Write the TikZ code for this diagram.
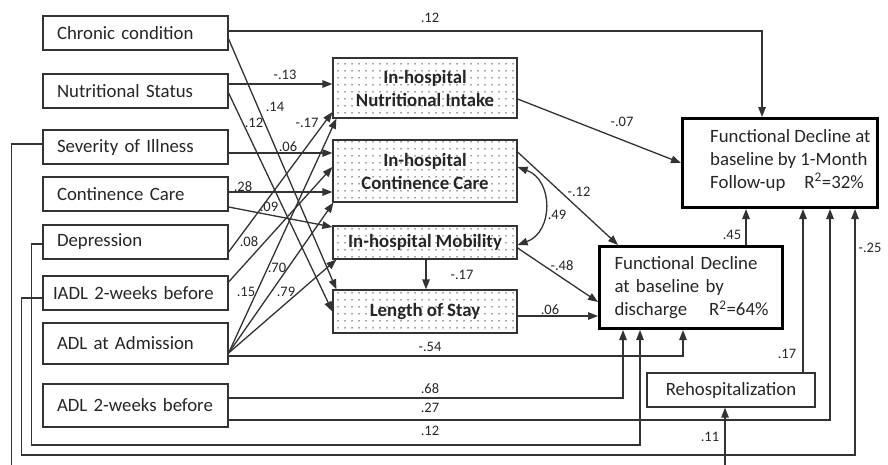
\documentclass[tikz,border=0pt]{standalone}
\usepackage{fontspec}
\setmainfont{Carlito}
\usetikzlibrary{arrows.meta,patterns.meta}
\newcommand{\boxfont}{\fontsize{18.8}{23}\selectfont}
\newcommand{\labfont}{\fontsize{14.5}{17}\selectfont}
\tikzset{
  lbox/.style={draw=black!80, line width=1.2pt, minimum width=185pt, text width=157pt,
    inner xsep=14pt, inner ysep=0pt, align=left, font=\boxfont, text=black!85},
  mbox/.style={draw=black!80, line width=1.2pt, minimum width=184pt, inner sep=0pt,
    align=center, font=\boxfont\bfseries, text=black!85,
    pattern={Dots[distance=6.5pt,radius=0.8pt]}, pattern color=black!75},
  rbox/.style={draw=black, line width=3pt, inner sep=0pt},
  conn/.style={draw=black!80, line width=1.3pt, -{Triangle[length=10pt,width=7.5pt]}},
  dconn/.style={draw=black!80, line width=1.3pt,
    {Triangle[length=10pt,width=7.5pt]}-{Triangle[length=10pt,width=7.5pt]}},
  lab/.style={font=\labfont, text=black!85, inner sep=0pt},
}
\begin{document}
\begin{tikzpicture}[x=1pt,y=-1pt]
\useasboundingbox (0,0) rectangle (888,464);
\clip (0,0) rectangle (888,464);
\fill[white] (0,0) rectangle (888,464);

% left column
\node[lbox, minimum height=34pt] (chronic) at (135.5,33) {Chronic condition};
\node[lbox, minimum height=34pt] (nutr) at (135.5,91) {Nutritional Status};
\node[lbox, minimum height=34pt] (sev) at (135.5,147) {Severity of Illness};
\node[lbox, minimum height=34pt] (cont) at (135.5,194) {Continence Care};
\node[lbox, minimum height=34pt] (dep) at (135.5,242) {Depression};
\node[lbox, minimum height=34pt, inner xsep=10pt, text width=165pt] (iadl) at (135.5,293) {IADL 2-weeks before};
\node[lbox, minimum height=41pt] (adla) at (135.5,343.5) {ADL at Admission};
\node[lbox, minimum height=43pt] (adl2) at (135.5,405.5) {ADL 2-weeks before};

% middle column
\node[mbox, minimum height=60pt] (ni) at (425,88) {In-hospital\\Nutritional Intake};
\node[mbox, minimum height=62pt] (icc) at (425,171) {In-hospital\\Continence Care};
\node[mbox, minimum height=33pt] (mob) at (425,242.5) {In-hospital Mobility};
\node[mbox, minimum height=43pt] (los) at (425,311.5) {Length of Stay};

% right column
\node[rbox, minimum width=195pt, minimum height=89pt] (fd1) at (780,163) {};
\node[anchor=west, align=left, font=\boxfont, text=black!85, inner sep=0pt] (fd1t) at (710,160)
  {Functional Decline at\\baseline by 1-Month\\\mbox{Follow-up\hspace{19pt}R\textsuperscript{2}=32\%}};
\node[rbox, text width=153pt, inner xsep=15pt, minimum height=82pt, align=left, font=\boxfont, text=black!85] (fdd) at (691,287.5)
  {Functional Decline\\at baseline by\\\mbox{discharge\hspace{22pt}R\textsuperscript{2}=64\%}};
\node[draw=black!80, line width=1.2pt, minimum width=168pt, minimum height=34pt, inner sep=0pt, font=\boxfont, text=black!85] (reh) at (731,390) {Rehospitalization};

% connectors
\draw[conn] ([yshift=2pt]chronic.east) -| ([xshift=-18pt]fd1.north);
\draw[conn] ([yshift=-6pt]chronic.east) -- ([xshift=4pt]los.north west);
\draw[conn] ([yshift=7pt]nutr.east) -- ([yshift=4pt]ni.west);
\draw[conn] ([yshift=-2pt]nutr.east) -- (los.west);
\draw[conn] ([yshift=-6pt]sev.east) -- ([yshift=18pt]icc.west);
\draw[conn] ([yshift=2pt]cont.east) -- ([yshift=-21pt]icc.west);
\draw[conn] ([yshift=-13pt]cont.east) -- ([yshift=15.5pt]mob.west);
\draw[conn] ([yshift=-10pt]dep.east) -- ([yshift=-24pt]ni.west);
\draw[conn] ([yshift=11pt]iadl.east) -- ([yshift=4pt]icc.west);
\draw[conn] ([yshift=-9.5pt]adla.east) -- ([xshift=4pt]ni.south west);
\draw[conn] ([yshift=-9.5pt]adla.east) -- ([xshift=1pt]icc.south west);
\draw[conn] ([yshift=-9.5pt]adla.east) -- ([xshift=4pt]mob.south west);
\draw[conn] ([yshift=-12.5pt]adla.east) -| ([xshift=-8pt]fdd.south);
\draw[conn] ([yshift=7.5pt]adl2.east) -| ([xshift=-68pt]fdd.south);
\draw[conn] ([yshift=-14.5pt]adl2.east) -| ([xshift=50pt]fd1.south);
\draw[conn] ([yshift=-2pt]dep.west) -- ++(-11,0) -- ++(0,201) -| ([xshift=-51pt]fdd.south);
\draw[conn] ([yshift=-5pt]iadl.west) -- ++(-21,0) -- ++(0,157) -| ([xshift=75pt]fd1.south);
\draw[conn] ([yshift=3pt]sev.west) -- ++(-31,0) -- ++(0,331) -| ([xshift=-6pt]reh.south);
\draw[conn] ([xshift=72pt]reh.north) -- ([xshift=23pt]fd1.south);
\draw[conn] ([xshift=55pt]fdd.north) -- ([xshift=-34pt]fd1.south);
\draw[conn] ([yshift=-11pt]ni.east) -- (fd1.west);
\draw[conn] ([yshift=19pt]icc.east) -- ([xshift=20pt]fdd.north west);
\draw[dconn] ([yshift=4pt]icc.east) .. controls +(36,13) and +(36,-13) .. ([yshift=-2.5pt]mob.east);
\draw[conn] ([yshift=-5.5pt]mob.east) -- ([yshift=-14.5pt]fdd.west);
\draw[conn] ([xshift=1pt]mob.south) -- ([xshift=1pt]los.north);
\draw[conn] ([yshift=-4.5pt]los.east) -- ([yshift=-28.5pt]fdd.west);

% labels
\node[lab] (l1) at (430,18) {.12};
\node[lab] (l2) at (285,75) {-.13};
\node[lab] (l3) at (275,107) {.14};
\node[lab] (l4) at (254,123) {.12};
\node[lab] (l5) at (307,123) {-.17};
\node[lab] (l6) at (288,147) {.06};
\node[lab] (l7) at (243,187) {.28};
\node[lab] (l8) at (269,207) {.09};
\node[lab] (l9) at (249,242) {.08};
\node[lab] (l10) at (277,268) {.70};
\node[lab] (l11) at (246,292) {.15};
\node[lab] (l12) at (286,292) {.79};
\node[lab] (l13) at (622,122) {-.07};
\node[lab] (l14) at (579,192) {-.12};
\node[lab] (l15) at (557,215) {.49};
\node[lab] (l16) at (562,266) {-.48};
\node[lab] (l17) at (462,275) {-.17};
\node[lab] (l18) at (550,310) {.06};
\node[lab] (l19) at (430,347) {-.54};
\node[lab] (l20) at (430,389) {.68};
\node[lab] (l21) at (430,408) {.27};
\node[lab] (l22) at (430,431) {.12};
\node[lab] (l23) at (732,235) {.45};
\node[lab] (l24) at (870,248) {-.25};
\node[lab] (l25) at (787,354) {.17};
\node[lab] (l26) at (710,437) {.11};
\end{tikzpicture}
\end{document}
